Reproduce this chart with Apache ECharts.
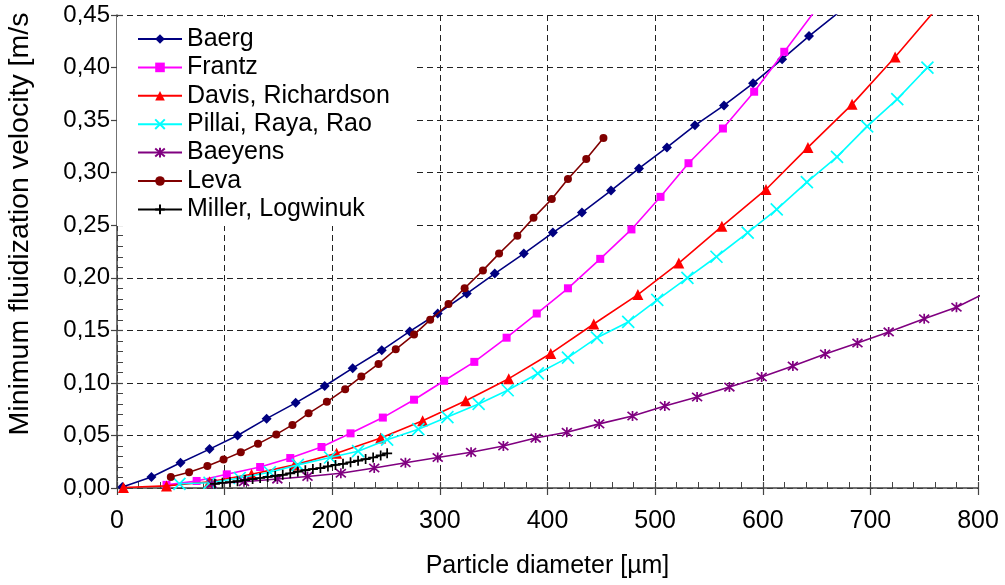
<!DOCTYPE html>
<html>
<head>
<meta charset="utf-8">
<script src="https://cdn.jsdelivr.net/npm/echarts@6/dist/echarts.min.js"></script>
<style>
html,body{margin:0;padding:0;background:#fff;}
#chart{width:1005px;height:585px;}
</style>
</head>
<body>
<div id="chart"></div>
<script>
// ---- data (particle diameter in µm, velocity in m/s) ----
const seriesNames = ['Baerg', 'Frantz', 'Davis, Richardson', 'Pillai, Raya, Rao', 'Baeyens', 'Leva', 'Miller, Logwinuk'];

const baergD = [5, 32, 59, 86, 112, 139, 166, 193, 219, 246, 272, 298, 325, 351, 378, 405, 432, 459, 485, 511, 537, 564, 591, 618, 643, 670];
const baergV = [0.001, 0.0105, 0.024, 0.037, 0.050, 0.066, 0.081, 0.097, 0.114, 0.131, 0.149, 0.166, 0.185, 0.204, 0.223, 0.243, 0.262, 0.283, 0.304, 0.324, 0.345, 0.364, 0.385, 0.408, 0.430, 0.452];

const frantzD = [46, 74, 102, 133, 161, 190, 217, 247, 276, 304, 332, 362, 390, 419, 449, 478, 505, 531, 563, 592, 620, 650];
const frantzV = [0.003, 0.0067, 0.013, 0.020, 0.0285, 0.039, 0.052, 0.067, 0.084, 0.102, 0.120, 0.143, 0.166, 0.190, 0.218, 0.246, 0.277, 0.309, 0.342, 0.377, 0.415, 0.456];

const davisD = [6, 46, 86, 125, 165, 204, 245, 284, 324, 364, 403, 443, 484, 522, 562, 603, 642, 683, 723, 763];
const davisV = [0.0005, 0.002, 0.006, 0.013, 0.022, 0.033, 0.0475, 0.064, 0.083, 0.104, 0.128, 0.156, 0.184, 0.214, 0.249, 0.284, 0.324, 0.365, 0.410, 0.458];

const pillaiD = [58, 86, 114, 142, 168, 198, 224, 251, 280, 307, 336, 363, 391, 419, 446, 475, 502, 530, 557, 586, 613, 641, 669, 697, 725, 753];
const pillaiV = [0.004, 0.005, 0.0095, 0.015, 0.022, 0.029, 0.035, 0.046, 0.056, 0.0675, 0.080, 0.093, 0.109, 0.124, 0.143, 0.158, 0.179, 0.200, 0.220, 0.243, 0.265, 0.291, 0.315, 0.344, 0.370, 0.400];

const baeyensD = [88, 118, 149, 177, 208, 239, 268, 298, 329, 359, 389, 418, 448, 479, 509, 539, 569, 599, 628, 658, 688, 717, 750, 780, 810];
const baeyensV = [0.004, 0.006, 0.0085, 0.011, 0.014, 0.019, 0.024, 0.029, 0.034, 0.040, 0.0475, 0.053, 0.061, 0.0685, 0.078, 0.0866, 0.096, 0.1056, 0.116, 0.1275, 0.138, 0.1485, 0.161, 0.172, 0.187];

const levaD = [50, 67, 84, 99, 115, 131, 148, 163, 178, 195, 212, 227, 243, 259, 276, 291, 308, 323, 340, 355, 372, 387, 404, 419, 436, 452];
const levaV = [0.0105, 0.015, 0.021, 0.027, 0.034, 0.042, 0.051, 0.060, 0.071, 0.082, 0.094, 0.106, 0.118, 0.132, 0.146, 0.160, 0.175, 0.190, 0.207, 0.223, 0.240, 0.257, 0.275, 0.294, 0.313, 0.333];

const millerD = [91, 98, 105, 112, 119, 126, 133, 140, 147, 154, 161, 168, 175, 182, 189, 196, 203, 210, 217, 224, 231, 238, 245, 251];
const millerV = [0.004, 0.005, 0.0055, 0.0065, 0.0075, 0.0085, 0.0095, 0.0105, 0.0115, 0.0125, 0.014, 0.0155, 0.017, 0.018, 0.019, 0.0205, 0.022, 0.023, 0.0245, 0.026, 0.0275, 0.029, 0.031, 0.033];

const xTickLabels = ['0', '100', '200', '300', '400', '500', '600', '700', '800'];
const yTickLabels = ['0,00', '0,05', '0,10', '0,15', '0,20', '0,25', '0,30', '0,35', '0,40', '0,45'];

const xTitle = 'Particle diameter [µm]';
const yTitle = 'Minimum fluidization velocity [m/s';

// ---- build ----
function pairs(d, v) { return d.map((x, i) => [x, v[i]]); }
const FONT = '"Liberation Sans", Arial, sans-serif';

const symX = 'path://M0,0L10,10M10,0L0,10';
const symStar = 'path://M0,0L10,10M10,0L0,10M5,-1L5,11';
const symPlus = 'path://M5,0L5,10M0,5L10,5';

const styles = [
  { color: '#000080', symbol: 'diamond', size: 10, stroke: false },
  { color: '#FF00FF', symbol: 'rect', size: 8, stroke: false },
  { color: '#FF0000', symbol: 'triangle', size: 11, stroke: false },
  { color: '#00FFFF', symbol: symX, size: 12, stroke: true },
  { color: '#800080', symbol: symStar, size: 10, stroke: true },
  { color: '#800000', symbol: 'circle', size: 8, stroke: false },
  { color: '#000000', symbol: symPlus, size: 10, stroke: true }
];
const dataSets = [
  pairs(baergD, baergV), pairs(frantzD, frantzV), pairs(davisD, davisV),
  pairs(pillaiD, pillaiV), pairs(baeyensD, baeyensV), pairs(levaD, levaV),
  pairs(millerD, millerV)
];

const series = seriesNames.map((name, i) => {
  const s = styles[i];
  return {
    name: name,
    type: 'line',
    data: dataSets[i],
    xAxisIndex: 0,
    yAxisIndex: 0,
    clip: true,
    smooth: false,
    symbol: s.symbol,
    symbolSize: s.size,
    showAllSymbol: true,
    animation: false,
    lineStyle: { color: s.color, width: 1.6 },
    itemStyle: s.stroke
      ? { color: s.color, borderColor: s.color, borderWidth: 1.7 }
      : { color: s.color, borderWidth: 0 },
    emphasis: { disabled: true },
    z: 3 + i
  };
});

const chart = echarts.init(document.getElementById('chart'), null, { renderer: 'canvas' });

const gridLine = { show: true, lineStyle: { color: '#222', type: [6, 4], width: 1 } };

chart.setOption({
  animation: false,
  backgroundColor: '#ffffff',
  textStyle: { fontFamily: FONT },
  grid: { left: 117, right: 27, top: 15, bottom: 97, containLabel: false },
  xAxis: [
    {
      type: 'value', min: 0, max: 800, interval: 100, position: 'bottom',
      axisLine: { show: true, onZero: false, lineStyle: { color: '#444', width: 1.5 } },
      axisTick: { show: true, inside: false, length: 7, lineStyle: { color: '#444', width: 1.2 } },
      minorTick: { show: false },
      axisLabel: {
        show: true, margin: 21, color: '#000', fontSize: 25, fontFamily: FONT,
        formatter: (v) => xTickLabels[Math.round(v / 100)]
      },
      splitLine: gridLine,
      name: xTitle, nameLocation: 'middle', nameGap: 66,
      nameTextStyle: { color: '#000', fontSize: 25, fontFamily: FONT }
    },
    {
      type: 'value', min: 0, max: 800, interval: 100, position: 'bottom',
      axisLine: { show: false, onZero: false },
      axisTick: { show: true, inside: true, length: 6, lineStyle: { color: '#444', width: 1.2 } },
      minorTick: { show: true, splitNumber: 5, length: 6, lineStyle: { color: '#444', width: 1 } },
      axisLabel: { show: false },
      splitLine: { show: false }
    }
  ],
  yAxis: [
    {
      type: 'value', min: 0, max: 0.45, interval: 0.05, position: 'left',
      axisLine: { show: true, onZero: false, lineStyle: { color: '#444', width: 1.5 } },
      axisTick: { show: true, inside: false, length: 6, lineStyle: { color: '#444', width: 1.2 } },
      minorTick: { show: false },
      axisLabel: {
        show: true, margin: 7, color: '#000', fontSize: 24, fontFamily: FONT,
        formatter: (v) => yTickLabels[Math.round(v / 0.05)]
      },
      splitLine: gridLine
    },
    {
      type: 'value', min: 0, max: 0.45, interval: 0.05, position: 'left',
      axisLine: { show: false, onZero: false },
      axisTick: { show: true, inside: true, length: 6, lineStyle: { color: '#444', width: 1.2 } },
      minorTick: { show: true, splitNumber: 5, length: 6, lineStyle: { color: '#444', width: 1 } },
      axisLabel: { show: false },
      splitLine: { show: false }
    }
  ],
  legend: {
    show: true,
    orient: 'vertical',
    left: 117,
    top: 17,
    padding: [9.5, 27, 4, 20],
    backgroundColor: '#ffffff',
    itemWidth: 44,
    itemHeight: 12,
    itemGap: 3.4,
    textStyle: { color: '#000', fontSize: 25, fontFamily: FONT, lineHeight: 25 },
    selectedMode: false,
    data: seriesNames
  },
  graphic: [
    {
      type: 'text',
      x: 20, y: 224,
      rotation: Math.PI / 2,
      style: {
        text: yTitle,
        fill: '#000',
        font: '28.5px ' + FONT,
        align: 'center',
        verticalAlign: 'middle'
      }
    }
  ],
  series: series
});
</script>
</body>
</html>
